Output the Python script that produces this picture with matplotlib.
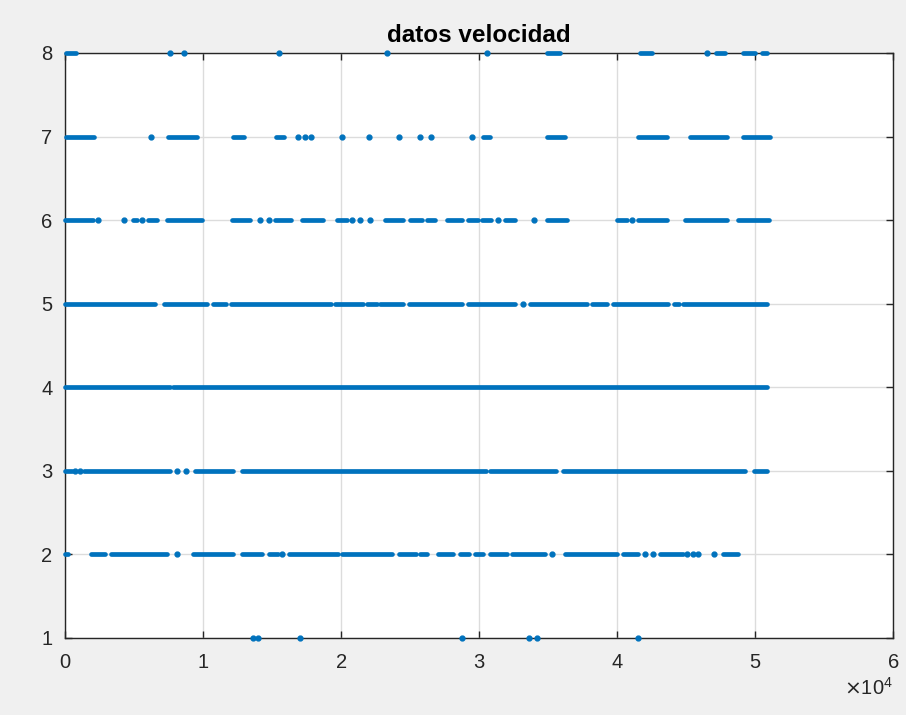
import numpy as np
import matplotlib
matplotlib.use("Agg")
import matplotlib.pyplot as plt
from matplotlib.ticker import ScalarFormatter

# x en unidades de 10^4 muestras
escala = 1e4

tramos_8 = [(0.01, 0.08), (3.49, 3.59), (4.17, 4.25), (4.72, 4.78), (4.91, 5.00), (5.05, 5.09)]
puntos_8 = [0.76, 0.86, 1.55, 2.33, 3.06, 4.65]

tramos_7 = [(0.01, 0.21), (0.75, 0.96), (1.22, 1.30), (1.53, 1.59), (3.03, 3.08),
            (3.49, 3.62), (4.15, 4.36), (4.53, 4.80), (4.91, 5.11)]
puntos_7 = [0.62, 1.69, 1.74, 1.78, 2.01, 2.20, 2.42, 2.57, 2.65, 2.95]

tramos_6 = [(0.0, 0.20), (0.49, 0.52), (0.60, 0.67), (0.74, 0.99), (1.21, 1.34), (1.52, 1.64),
            (1.72, 1.87), (1.97, 2.04), (2.32, 2.45), (2.50, 2.59), (2.62, 2.68), (2.77, 2.88),
            (2.92, 2.99), (3.02, 3.09), (3.19, 3.26), (3.49, 3.64), (4.00, 4.07), (4.15, 4.36),
            (4.49, 4.80), (4.88, 5.10)]
puntos_6 = [0.24, 0.43, 0.56, 1.41, 1.48, 2.08, 2.14, 2.21, 3.14, 3.40, 4.11]

tramos_5 = [(0.0, 0.65), (0.72, 1.03), (1.07, 1.17), (1.20, 1.93), (1.96, 2.16), (2.19, 2.26),
            (2.28, 2.45), (2.49, 2.88), (2.92, 3.26), (3.37, 3.78), (3.82, 3.93), (3.97, 4.37),
            (4.41, 4.45), (4.48, 5.09)]
puntos_5 = [3.32]

tramos_4 = [(0.0, 0.76), (0.78, 5.09)]
puntos_4 = []

tramos_3 = [(0.0, 0.05), (0.14, 0.76), (0.94, 1.22), (1.28, 3.05), (3.08, 3.56), (3.61, 4.93),
            (4.99, 5.09)]
puntos_3 = [0.07, 0.11, 0.81, 0.88]

tramos_2 = [(0.0, 0.02), (0.19, 0.29), (0.33, 0.74), (0.93, 1.22), (1.28, 1.43), (1.48, 1.54),
            (1.62, 1.98), (2.01, 2.37), (2.42, 2.54), (2.57, 2.62), (2.70, 2.81), (2.86, 2.93),
            (2.97, 3.03), (3.08, 3.20), (3.24, 3.48), (3.62, 4.00), (4.04, 4.15), (4.31, 4.48),
            (4.77, 4.88)]
puntos_2 = [0.81, 1.57, 3.53, 4.20, 4.26, 4.51, 4.55, 4.59, 4.70]

tramos_1 = []
puntos_1 = [1.36, 1.40, 1.70, 2.88, 3.36, 3.42, 4.15]

niveles = [8, 7, 6, 5, 4, 3, 2, 1]
tramos = [tramos_8, tramos_7, tramos_6, tramos_5, tramos_4, tramos_3, tramos_2, tramos_1]
puntos = [puntos_8, puntos_7, puntos_6, puntos_5, puntos_4, puntos_3, puntos_2, puntos_1]

azul = "#0072BD"
gris_txt = "#262626"

plt.rcParams["font.family"] = ["Liberation Sans", "DejaVu Sans"]

fig = plt.figure(figsize=(9.06, 7.15), dpi=100, facecolor="#F0F0F0")
ax = fig.add_axes([0.0717, 0.1077, 0.914, 0.8182])
ax.set_facecolor("white")

for y, tr, pt in zip(niveles, tramos, puntos):
    if tr:
        t = np.array(tr) * escala
        ax.hlines([y] * len(t), t[:, 0], t[:, 1], colors=azul, linewidth=3.4,
                  capstyle="round", clip_on=False, zorder=3)
    if pt:
        ax.plot(np.array(pt) * escala, [y] * len(pt), ".", color=azul,
                markersize=7, clip_on=False, zorder=3)

ax.set_xlim(0, 60000)
ax.set_ylim(1, 8)
ax.set_xticks(np.arange(0, 60001, 10000))
ax.set_yticks(np.arange(1, 9))

fmt = ScalarFormatter(useMathText=True)
fmt.set_powerlimits((0, 0))
ax.xaxis.set_major_formatter(fmt)
ax.xaxis.get_offset_text().set_fontsize(14.5)
ax.xaxis.get_offset_text().set_color(gris_txt)

ax.grid(True, color="#DCDCDC", linewidth=1)
ax.set_axisbelow(True)
ax.tick_params(direction="in", length=5, width=1, colors=gris_txt, labelsize=14.5,
               top=True, right=True)
ax.tick_params(axis="x", pad=11)
ax.tick_params(axis="y", pad=9)
for s in ax.spines.values():
    s.set_color(gris_txt)
    s.set_linewidth(1)

ax.set_title("datos velocidad", fontsize=17.5, fontweight="bold", color="black", pad=8)

fig.savefig("out.png", dpi=100, facecolor=fig.get_facecolor())
